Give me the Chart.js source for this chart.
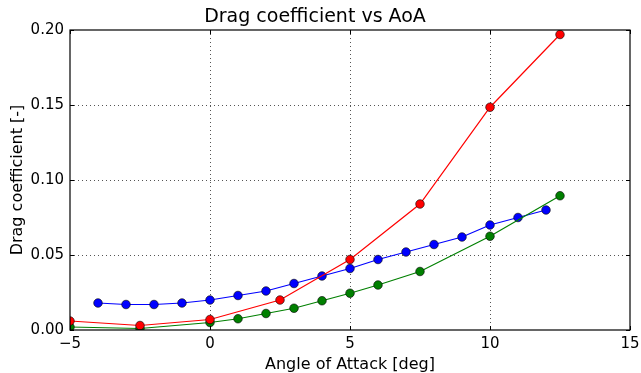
<!DOCTYPE html>
<html>
<head>
<meta charset="utf-8">
<script src="https://cdn.jsdelivr.net/npm/chart.js@4"></script>
<style>
  html, body { margin: 0; padding: 0; background: #fff; }
  #wrap { width: 641px; height: 373px; }
</style>
</head>
<body>
<div id="wrap"><canvas id="chartDrag"></canvas></div>
<script>
(function () {
  var FONT = "'DejaVu Sans', sans-serif";

  // AoA [deg] / Cd per run
  var redAoA = [-5, -2.5, 0, 2.5, 5, 7.5, 10, 12.5];
  var redCd = [0.006, 0.003, 0.007, 0.020, 0.047, 0.084, 0.1485, 0.197];

  var blueAoA = [-4, -3, -2, -1, 0, 1, 2, 3, 4, 5, 6, 7, 8, 9, 10, 11, 12];
  var blueCd = [0.018, 0.017, 0.017, 0.018, 0.020, 0.023, 0.026, 0.031, 0.036, 0.041,
                0.047, 0.052, 0.057, 0.062, 0.070, 0.075, 0.080];

  var greenAoA = [-5, -2.5, 0, 1, 2, 3, 4, 5, 6, 7.5, 10, 12.5];
  var greenCd = [0.002, 0.001, 0.005, 0.0075, 0.011, 0.0145, 0.0195, 0.0245, 0.030,
                 0.039, 0.0625, 0.0895];

  var xTicks = [-5, 0, 5, 10, 15];
  var yTicks = [0, 0.05, 0.10, 0.15, 0.20];

  function pts(xs, ys) {
    return xs.map(function (x, i) { return { x: x, y: ys[i] }; });
  }

  function series(label, xs, ys, color, order) {
    return {
      label: label,
      data: pts(xs, ys),
      showLine: true,
      borderColor: color,
      borderWidth: 1.2,
      backgroundColor: color,
      pointBackgroundColor: color,
      pointBorderColor: "#000",
      pointBorderWidth: 0.6,
      pointRadius: 4.3,
      pointHoverRadius: 4.3,
      clip: 0,
      order: order,
    };
  }

  function fixedTicks(list) {
    return function (s) { s.ticks = list.map(function (v) { return { value: v }; }); };
  }

  // dotted grid under the data, black frame + inward ticks over it
  var frame = {
    id: "frame",
    beforeDatasetsDraw: function (chart) {
      var a = chart.chartArea, ctx = chart.ctx;
      var sx = chart.scales.x, sy = chart.scales.y;
      ctx.save();
      ctx.strokeStyle = "#555";
      ctx.lineWidth = 1;
      ctx.setLineDash([1, 3]);
      ctx.beginPath();
      xTicks.slice(1, -1).forEach(function (v) {
        var p = Math.round(sx.getPixelForValue(v)) + 0.5;
        ctx.moveTo(p, a.top); ctx.lineTo(p, a.bottom);
      });
      yTicks.slice(1, -1).forEach(function (v) {
        var p = Math.round(sy.getPixelForValue(v)) + 0.5;
        ctx.moveTo(a.left, p); ctx.lineTo(a.right, p);
      });
      ctx.stroke();
      ctx.restore();
    },
    afterDatasetsDraw: function (chart) {
      var a = chart.chartArea, ctx = chart.ctx;
      var sx = chart.scales.x, sy = chart.scales.y;
      ctx.save();
      ctx.strokeStyle = "#000";
      ctx.lineWidth = 1;
      ctx.beginPath();
      xTicks.forEach(function (v) {
        var p = Math.round(sx.getPixelForValue(v)) + 0.5;
        ctx.moveTo(p, a.bottom); ctx.lineTo(p, a.bottom - 4);
        ctx.moveTo(p, a.top); ctx.lineTo(p, a.top + 4);
      });
      yTicks.forEach(function (v) {
        var p = Math.round(sy.getPixelForValue(v)) + 0.5;
        ctx.moveTo(a.left, p); ctx.lineTo(a.left + 4, p);
        ctx.moveTo(a.right, p); ctx.lineTo(a.right - 4, p);
      });
      ctx.stroke();
      ctx.lineWidth = 1.2;
      ctx.strokeRect(a.left, a.top, a.right - a.left, a.bottom - a.top);
      ctx.restore();
    }
  };

  new Chart(document.getElementById("chartDrag"), {
    type: "scatter",
    data: {
      datasets: [
        series("red", redAoA, redCd, "#ff0000", 0),
        series("green", greenAoA, greenCd, "#008000", 1),
        series("blue", blueAoA, blueCd, "#0000ff", 2),
      ],
    },
    options: {
      responsive: true,
      maintainAspectRatio: false,
      animation: false,
      layout: { padding: { left: 0, right: 11, top: 0, bottom: 0 } },
      plugins: {
        legend: { display: false },
        tooltip: { enabled: false },
        title: {
          display: true,
          text: "Drag coefficient vs AoA",
          color: "#000",
          font: { family: FONT, size: 19, weight: "normal", lineHeight: 1.2 },
          padding: { top: 6, bottom: 1.2 },
        },
      },
      scales: {
        x: {
          type: "linear",
          min: -5, max: 15,
          afterBuildTicks: fixedTicks(xTicks),
          afterFit: function (s) {
            s.height = 43;
            s.paddingLeft = 0; s.paddingRight = 0;
          },
          ticks: {
            color: "#000",
            padding: 5,
            maxRotation: 0,
            font: { family: FONT, size: 15 },
            callback: function (v) { return String(v).replace("-", "\u2212"); },
          },
          grid: { display: false, drawTicks: false },
          border: { display: false },
          title: {
            display: true,
            text: "Angle of Attack [deg]",
            color: "#000",
            font: { family: FONT, size: 16, lineHeight: 1 },
            padding: { top: 0, bottom: 0 },
          },
        },
        y: {
          type: "linear",
          min: 0, max: 0.2,
          afterBuildTicks: fixedTicks(yTicks),
          afterFit: function (s) {
            s.width = 70;
            s.paddingTop = 0; s.paddingBottom = 0;
          },
          ticks: {
            color: "#000",
            padding: 6,
            font: { family: FONT, size: 15 },
            callback: function (v) { return v.toFixed(2); },
          },
          grid: { display: false, drawTicks: false },
          border: { display: false },
          title: {
            display: true,
            text: "Drag coefficient [-]",
            color: "#000",
            font: { family: FONT, size: 16, lineHeight: 1.2 },
            padding: { top: 8, bottom: 0 },
          },
        },
      },
    },
    plugins: [frame],
  });
})();
</script>
</body>
</html>
